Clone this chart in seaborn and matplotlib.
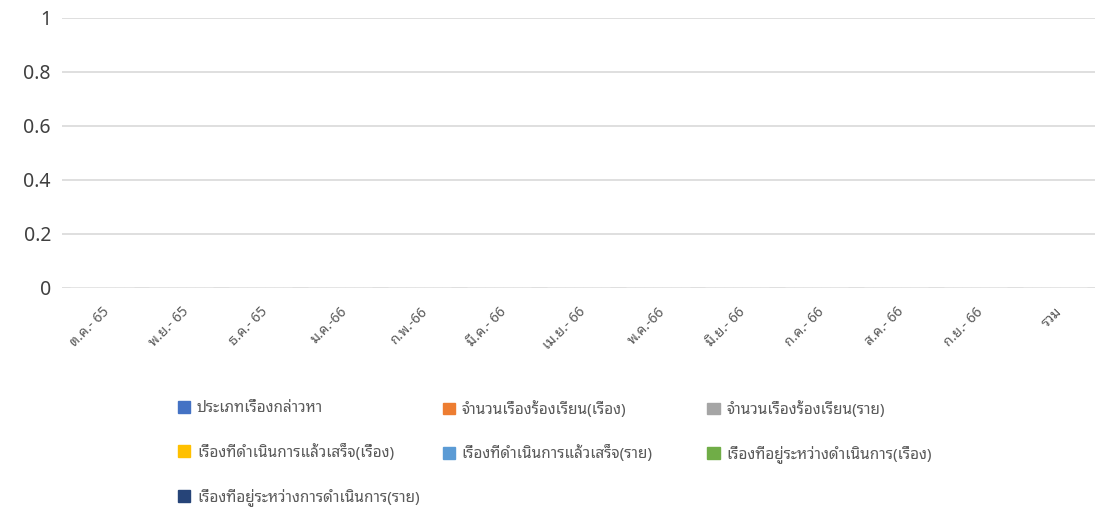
import pandas as pd
import numpy as np
from matplotlib import pyplot as plt
import seaborn as sns

months = ['ต.ค.- 65', 'พ.ย.- 65', 'ธ.ค.- 65', 'ม.ค.-66', 'ก.พ.-66', 'มี.ค.- 66', 'เม.ย.- 66',
          'พ.ค.-66', 'มิ.ย.- 66', 'ก.ค.- 66', 'ส.ค.- 66', 'ก.ย.- 66', 'รวม']
series = ['ประเภทเรื่องกล่าวหา', 'จำนวนเรื่องร้องเรียน(เรื่อง)', 'จำนวนเรื่องร้องเรียน(ราย)',
          'เรื่องที่ดำเนินการแล้วเสร็จ(เรื่อง)', 'เรื่องที่ดำเนินการแล้วเสร็จ(ราย)',
          'เรื่องที่อยู่ระหว่างดำเนินการ(เรื่อง)', 'เรื่องที่อยู่ระหว่างการดำเนินการ(ราย)']
# the table is empty: every series is zero for every month
values = [0] * len(months)
colors = ['#4472C4', '#ED7D31', '#A5A5A5', '#FFC000', '#5B9BD5', '#70AD47', '#264478']

rows = []
for s in series:
    for m, v in zip(months, values):
        rows.append({'month': m, 'series': s, 'value': v})
df = pd.DataFrame(rows)

sns.set_style('white')
plt.rcParams['font.family'] = ['Noto Sans Thai Looped', 'Noto Sans Thai', 'DejaVu Sans']

fig = plt.figure(figsize=(11.08, 5.14), dpi=100)
ax = fig.add_axes([0.056, 0.44, 0.932, 0.525])
sns.barplot(data=df, x='month', y='value', hue='series', palette=colors, ax=ax, legend=False)

ax.set_ylim(0, 1)
ax.set_yticks(np.arange(0, 1.01, 0.2))
ax.set_yticklabels(['0', '0.2', '0.4', '0.6', '0.8', '1'], fontsize=14, color='#404040')
ax.grid(axis='y', color='#d9d9d9', linewidth=1.2)
ax.set_axisbelow(True)
for sp in ax.spines.values():
    sp.set_visible(False)
ax.tick_params(axis='y', length=0, pad=8)
ax.tick_params(axis='x', length=0, pad=12)
ax.set_xticks(range(len(months)))
ax.set_xticklabels(months, rotation=45, ha='right', rotation_mode='anchor', fontsize=10, color='#595959')
ax.set_xlabel('')
ax.set_ylabel('')

# Excel lays the legend out row by row in equal-width columns
cols = [[0, 3, 6], [1, 4], [2, 5]]
xs = [0.155, 0.394, 0.633]
for idx, x in zip(cols, xs):
    handles = [plt.Rectangle((0, 0), 1, 1, color=colors[i]) for i in idx]
    labels = [series[i] for i in idx]
    fig.legend(handles, labels, loc='upper left', bbox_to_anchor=(x, 0.232), ncol=1,
               frameon=False, fontsize=11, handlelength=0.8, handleheight=0.8,
               borderaxespad=0, labelspacing=1.8, handletextpad=0.45, labelcolor='#595959')

fig.savefig('out.png', dpi=100)
